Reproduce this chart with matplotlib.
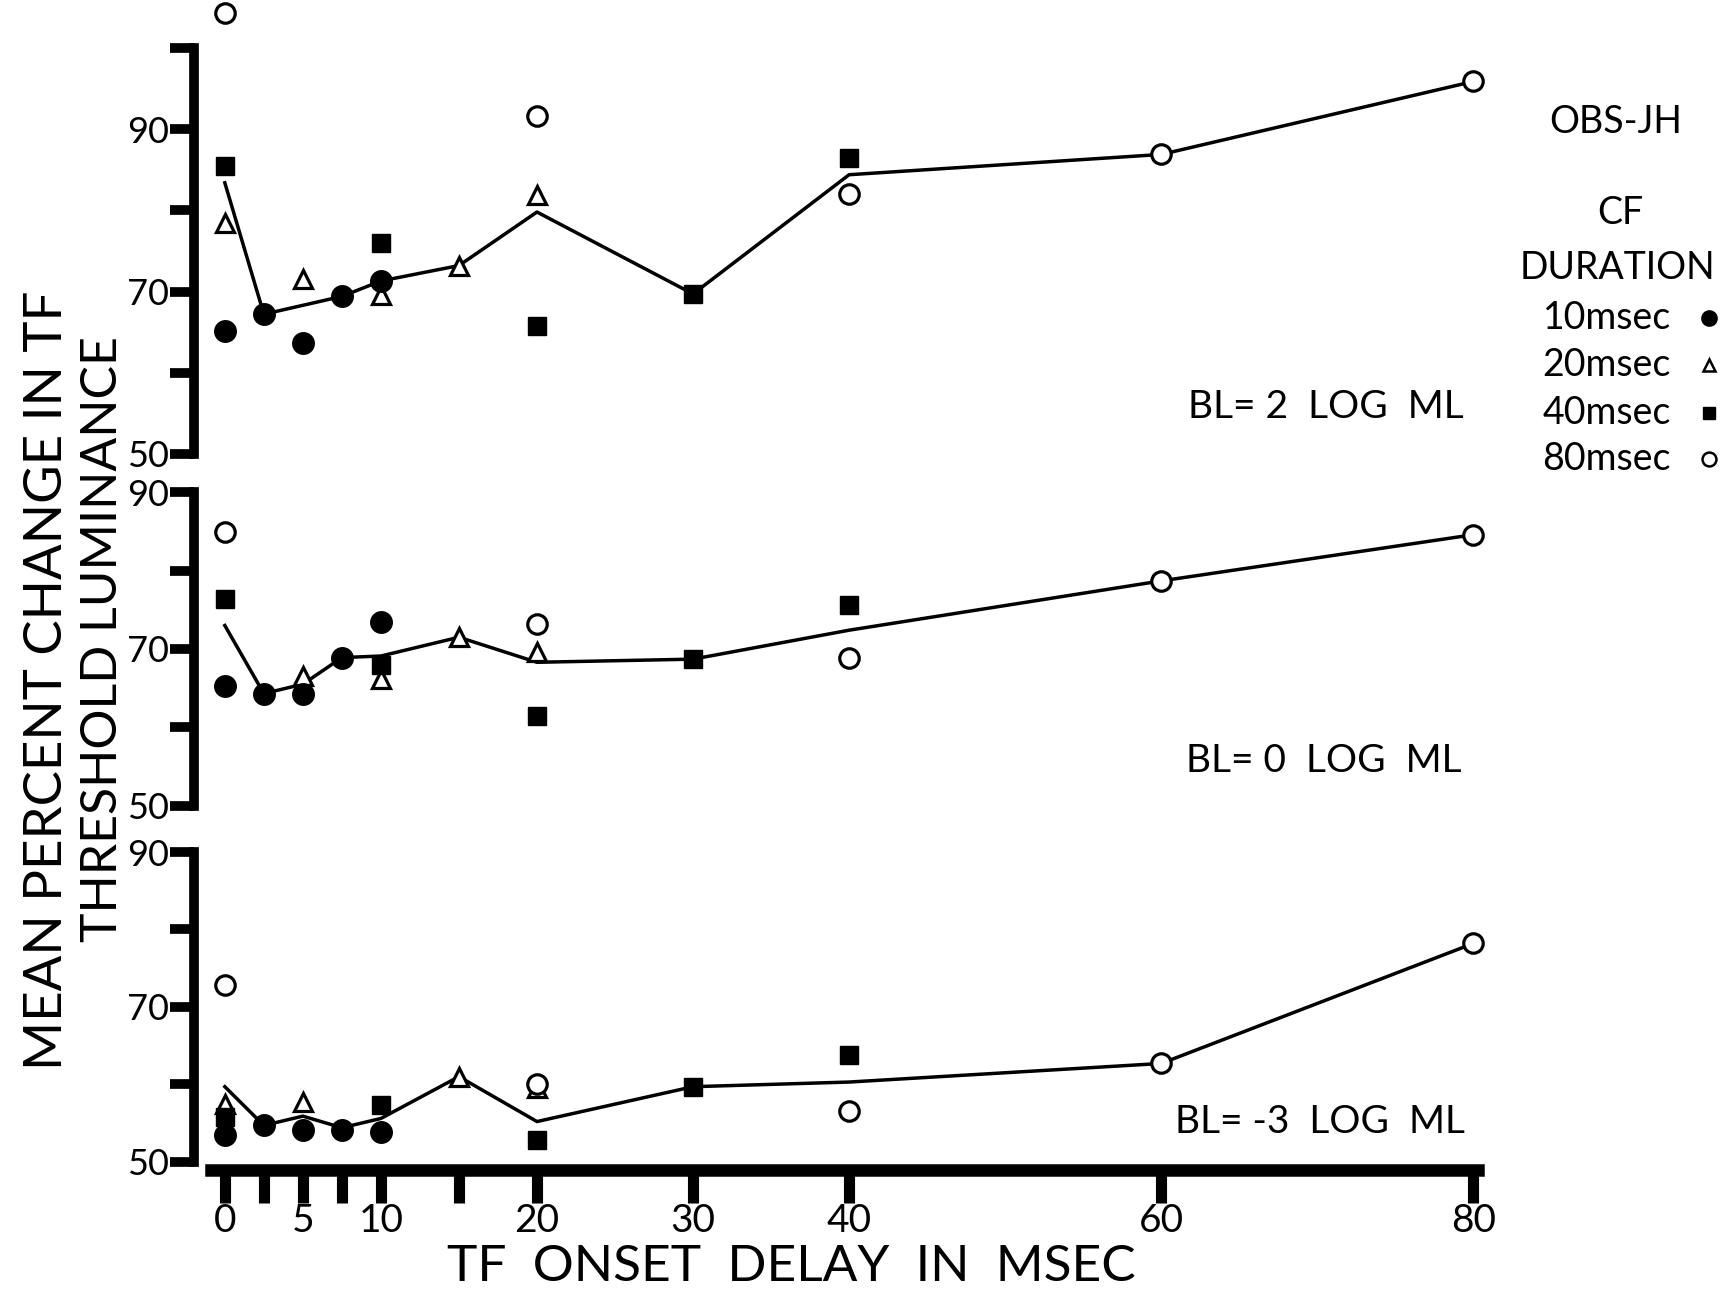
import matplotlib
matplotlib.use("Agg")
import matplotlib.pyplot as plt
from matplotlib.lines import Line2D

plt.rcParams["font.family"] = ["Lato", "DejaVu Sans"]

# onset delay ticks (msec)
xticks = [0, 2.5, 5, 7.5, 10, 15, 20, 30, 40, 60, 80]
xticklabels = ["0", "", "5", "", "10", "", "20", "30", "40", "60", "80"]

# BL = 2 LOG ML
top_10_x = [0, 2.5, 5, 7.5, 10]
top_10_y = [65.1, 67.2, 63.6, 69.4, 71.3]
top_20_x = [0, 5, 10, 15, 20]
top_20_y = [78.5, 71.5, 69.6, 73.2, 81.9]
top_40_x = [0, 10, 20, 30, 40]
top_40_y = [85.5, 76.0, 65.7, 69.7, 86.5]
top_80_x = [0, 20, 40, 60, 80]
top_80_y = [104.3, 91.7, 82.0, 86.9, 95.9]
top_mean_x = [0, 2.5, 7.5, 10, 15, 20, 30, 40, 60, 80]
top_mean_y = [83.4, 67.2, 69.4, 71.3, 73.2, 79.8, 69.7, 84.4, 86.9, 95.9]

# BL = 0 LOG ML
mid_10_x = [0, 2.5, 5, 7.5, 10]
mid_10_y = [65.3, 64.3, 64.3, 68.9, 73.4]
mid_20_x = [5, 10, 15, 20]
mid_20_y = [66.6, 66.2, 71.5, 69.6]
mid_40_x = [0, 10, 20, 30, 40]
mid_40_y = [76.4, 67.9, 61.5, 68.7, 75.6]
mid_80_x = [0, 20, 40, 60, 80]
mid_80_y = [84.9, 73.2, 68.9, 78.7, 84.6]
mid_mean_x = [0, 2.5, 5, 7.5, 10, 15, 20, 30, 40, 60, 80]
mid_mean_y = [73.0, 64.3, 65.5, 68.9, 69.1, 71.5, 68.3, 68.7, 72.4, 78.7, 84.6]

# BL = -3 LOG ML
bot_10_x = [0, 2.5, 5, 7.5, 10]
bot_10_y = [53.4, 54.7, 54.1, 54.1, 53.9]
bot_20_x = [0, 5, 15, 20]
bot_20_y = [57.5, 57.7, 61.0, 59.5]
bot_40_x = [0, 10, 20, 30, 40]
bot_40_y = [55.8, 57.3, 52.8, 59.7, 63.8]
bot_80_x = [0, 20, 40, 60, 80]
bot_80_y = [72.8, 60.1, 56.5, 62.7, 78.2]
bot_mean_x = [0, 2.5, 5, 7.5, 10, 15, 20, 30, 40, 60, 80]
bot_mean_y = [59.7, 54.7, 55.9, 54.4, 55.6, 61.0, 55.2, 59.7, 60.3, 62.7, 78.2]

panels = [
    ("BL= 2  LOG  ML", (50, 100), [50, 60, 70, 80, 90, 100], ["50", "", "70", "", "90", ""],
     top_10_x, top_10_y, top_20_x, top_20_y, top_40_x, top_40_y, top_80_x, top_80_y, top_mean_x, top_mean_y),
    ("BL= 0  LOG  ML", (50, 90), [50, 60, 70, 80, 90], ["50", "", "70", "", "90"],
     mid_10_x, mid_10_y, mid_20_x, mid_20_y, mid_40_x, mid_40_y, mid_80_x, mid_80_y, mid_mean_x, mid_mean_y),
    ("BL= -3  LOG  ML", (50, 90), [50, 60, 70, 80, 90], ["50", "", "70", "", "90"],
     bot_10_x, bot_10_y, bot_20_x, bot_20_y, bot_40_x, bot_40_y, bot_80_x, bot_80_y, bot_mean_x, bot_mean_y),
]

boxes = [[0.1116, 0.6507, 0.743, 0.3122],
         [0.1116, 0.3799, 0.743, 0.2410],
         [0.1116, 0.1056, 0.743, 0.2385]]
label_pos = [(0.764, 0.6865), (0.763, 0.414), (0.761, 0.136)]

fig = plt.figure(figsize=(17.35, 12.99), dpi=100)

axes = []
for i, p in enumerate(panels):
    (title, ylim, yt, ytl, x10, y10, x20, y20, x40, y40, x80, y80, mx, my) = p
    ax = fig.add_axes(boxes[i])
    ax.patch.set_alpha(0)
    ax.set_xlim(-2, 80.6)
    ax.set_ylim(*ylim)
    for s in ["top", "right", "bottom"]:
        ax.spines[s].set_visible(False)
    ax.spines["left"].set_linewidth(7)
    ax.set_yticks(yt)
    ax.set_yticklabels(ytl)
    ax.tick_params(axis="y", direction="out", length=17, width=7, labelsize=26, pad=1)
    ax.set_xticks([])

    ax.plot(mx, my, color="black", lw=2.5, zorder=2, clip_on=False)
    ax.plot(x10, y10, ls="none", marker="o", ms=15.5, color="black", zorder=4, clip_on=False)
    ax.plot(x20, y20, ls="none", marker="^", ms=13.5, mfc="white", mec="black", mew=2.3, zorder=3, clip_on=False)
    ax.plot(x40, y40, ls="none", marker="s", ms=12.5, color="black", zorder=3, clip_on=False)
    ax.plot(x80, y80, ls="none", marker="o", ms=14, mfc="white", mec="black", mew=2.3, zorder=3, clip_on=False)

    fig.text(label_pos[i][0], label_pos[i][1], title, fontsize=28, ha="center", va="center")
    axes.append(ax)

# x axis on the bottom panel only
ax = axes[2]
ax.spines["bottom"].set_visible(True)
ax.spines["bottom"].set_linewidth(9)
ax.spines["bottom"].set_position(("outward", 6))
ax.spines["bottom"].set_bounds(-0.9, 80.3)
ax.set_xticks(xticks)
ax.set_xticklabels(xticklabels)
ax.tick_params(axis="x", direction="out", length=24, width=8, labelsize=28, pad=0)

# axis titles
fig.text(0.0275, 0.476, "MEAN PERCENT CHANGE IN TF", rotation=90, fontsize=38,
         ha="center", va="center")
fig.text(0.0595, 0.5077, "THRESHOLD LUMINANCE", rotation=90, fontsize=36,
         ha="center", va="center")
fig.text(0.456, 0.025, "TF  ONSET  DELAY  IN  MSEC", fontsize=37, ha="center", va="center")

# legend block
fig.text(0.931, 0.906, "OBS-JH", fontsize=27, ha="center", va="center")
fig.text(0.934, 0.836, "CF", fontsize=27, ha="center", va="center")
fig.text(0.932, 0.794, "DURATION", fontsize=27, ha="center", va="center")

leg_names = ["10msec", "20msec", "40msec", "80msec"]
leg_y = [0.7555, 0.719, 0.682, 0.6465]
leg_style = [dict(marker="o", ms=11, color="black"),
             dict(marker="^", ms=9, mfc="white", mec="black", mew=1.8),
             dict(marker="s", ms=9, color="black"),
             dict(marker="o", ms=10, mfc="white", mec="black", mew=1.8)]
for name, y, st in zip(leg_names, leg_y, leg_style):
    fig.text(0.963, y, name, fontsize=27, ha="right", va="center")
    fig.add_artist(Line2D([0.9853], [y], transform=fig.transFigure, ls="none", **st))

fig.savefig("out.png", dpi=100, facecolor="white")
